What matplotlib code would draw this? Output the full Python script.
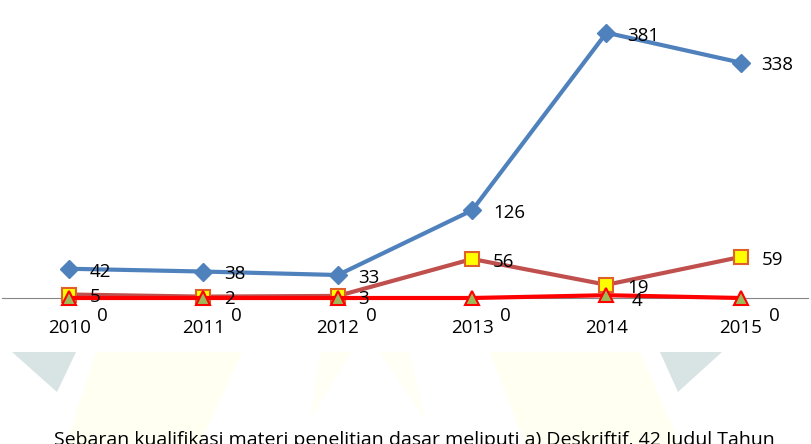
import matplotlib
matplotlib.use("Agg")
import matplotlib.pyplot as plt
from matplotlib.patches import Polygon

years = ["2010", "2011", "2012", "2013", "2014", "2015"]
deskriptif = [42, 38, 33, 126, 381, 338]
series2 = [5, 2, 3, 56, 19, 59]
series3 = [0, 0, 0, 0, 4, 0]
caption = "Sebaran kualifikasi materi penelitian dasar meliputi a) Deskriftif, 42 Judul Tahun"

plt.rcParams['font.family'] = ['Open Sans', 'DejaVu Sans']

W, H = 812, 444
fig = plt.figure(figsize=(W / 100, H / 100), dpi=100)

# faint watermark shapes (pixel coords -> figure coords)
def fpoly(pts, color):
    p = Polygon([(x / W, 1 - y / H) for x, y in pts], closed=True,
                transform=fig.transFigure, facecolor=color, edgecolor='none', zorder=0)
    fig.patches.append(p)

fpoly([(12, 352), (76, 352), (57, 392)], '#d8e3e3')
fpoly([(660, 352), (722, 352), (678, 392)], '#d8e3e3')
fpoly([(96, 352), (242, 352), (200, 444), (66, 444)], '#fffff2')
fpoly([(490, 352), (640, 352), (680, 444), (525, 444)], '#fffff2')
fpoly([(320, 352), (352, 352), (310, 420)], '#fffff6')
fpoly([(380, 352), (410, 352), (425, 420)], '#fffff6')

ax_left, ax_right = 2 / W, 808 / W
ax_bottom = (H - 298) / H
ax = fig.add_axes([ax_left, ax_bottom, ax_right - ax_left, 298 / H])
ax.set_facecolor('none')

x = list(range(len(years)))
ax.plot(x, deskriptif, color='#4F81BD', lw=3, marker='D', ms=9,
        mfc='#4F81BD', mec='#4F81BD', clip_on=False, zorder=3)
ax.plot(x, series2, color='#C0504D', lw=3, marker='s', ms=10,
        mfc='#FFFF00', mec='#E0602A', mew=1.5, clip_on=False, zorder=4)
ax.plot(x, series3, color='#FF0000', lw=3, marker='^', ms=10,
        mfc='#9BBB59', mec='#FF0000', mew=1.5, clip_on=False, zorder=5)

fs = 13.5
for xi, v in zip(x, deskriptif):
    ax.annotate(str(v), (xi, v), xytext=(15, -2), textcoords='offset points',
                ha='left', va='center', fontsize=fs, color='black', zorder=6)
for xi, v in zip(x, series2):
    ax.annotate(str(v), (xi, v), xytext=(15, -2), textcoords='offset points',
                ha='left', va='center', fontsize=fs, color='black', zorder=6)
for xi, v in zip(x, series3):
    if v == 0:
        off = (20, -13)
    else:
        off = (18, -4)
    ax.annotate(str(v), (xi, v), xytext=off, textcoords='offset points',
                ha='left', va='center', fontsize=fs, color='black', zorder=6)

ax.set_xlim(-0.5, 5.5)
ax.set_ylim(0, 428)
ax.set_xticks(x)
ax.set_xticklabels(years, fontsize=fs)
ax.tick_params(axis='x', length=0, pad=15)
ax.set_yticks([])
for s in ['top', 'right', 'left']:
    ax.spines[s].set_visible(False)
ax.spines['bottom'].set_color('#868686')
ax.spines['bottom'].set_linewidth(0.8)

fig.text(414 / W, (H - 431) / H, caption, ha='center', va='top', fontsize=14, color='black')

fig.savefig('out.png', dpi=100)
